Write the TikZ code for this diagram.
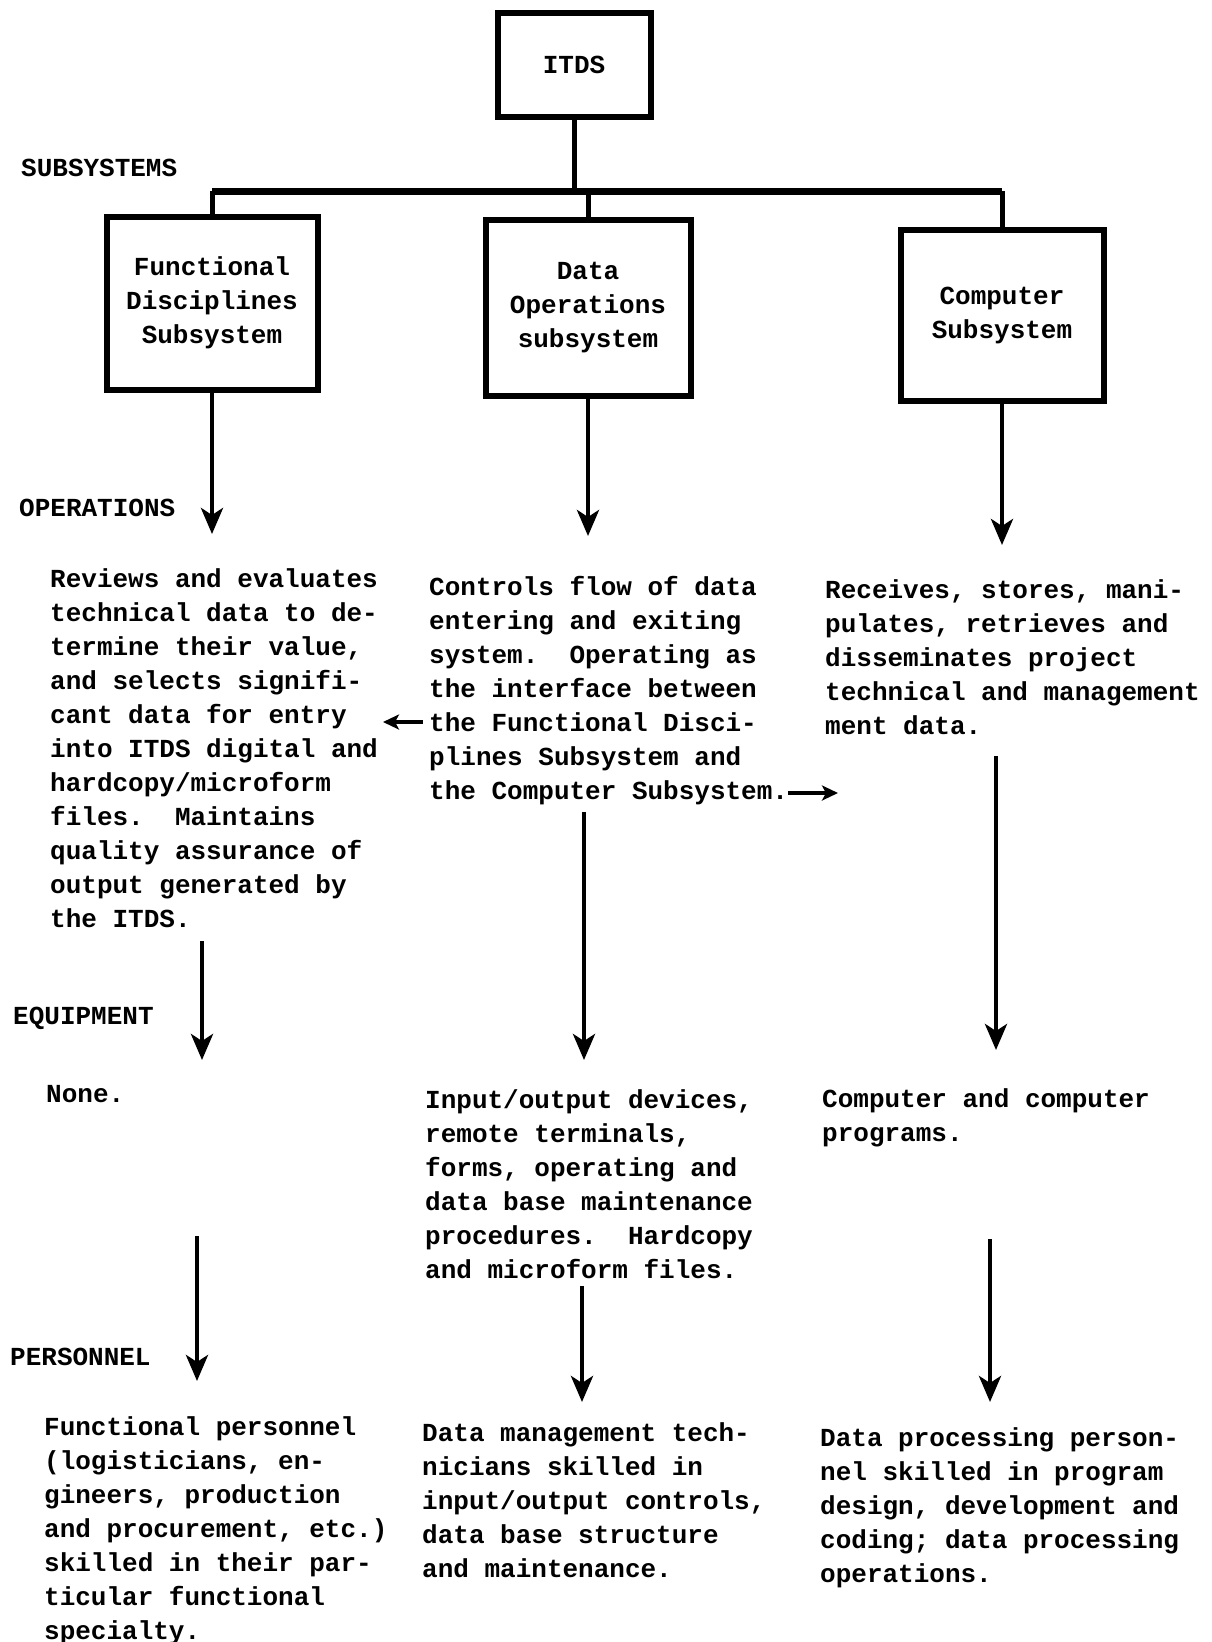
\documentclass[tikz,border=0pt]{standalone}
\usepackage{fontspec}
\setmonofont{Liberation Mono}
\usetikzlibrary{arrows.meta}

\tikzset{
  typed/.style={font=\ttfamily\bfseries\fontsize{26}{34}\selectfont},
  box/.style={draw, line width=6pt, typed, align=center, inner sep=0pt},
  txt/.style={typed, align=left, anchor=base west, inner sep=0pt},
  link/.style={line width=5pt},
  arr/.style={line width=4.5pt, -{Stealth[length=26pt,width=22pt,inset=7pt]}},
  sidearr/.style={line width=3.5pt, -{Stealth[length=16pt,width=15pt,inset=4pt]}}
}

\begin{document}
\begin{tikzpicture}[x=1pt,y=-1pt]
  \useasboundingbox (0,0) rectangle (1212,1642);

  % boxes
  \node[box, minimum width=153pt, minimum height=104pt] (itds) at (574,65) {ITDS};
  \node[box, minimum width=211pt, minimum height=173pt] (fds) at (212,303) {Functional\\Disciplines\\Subsystem};
  \node[box, minimum width=205pt, minimum height=176pt] (dos) at (588,308) {Data\\Operations\\subsystem};
  \node[box, minimum width=203pt, minimum height=171pt] (cs) at (1002,315) {Computer\\Subsystem};

  % tree
  \coordinate (bus) at (574,191);
  \draw[link] (itds.south) -- (bus);
  \draw[line width=7pt] (fds.north |- bus) -- (cs.north |- bus);
  \draw[link] (fds.north |- bus) -- (fds.north);
  \draw[link] (dos.north |- bus) -- (dos.north);
  \draw[link] (cs.north |- bus) -- (cs.north);

  % row labels
  \node[txt] (lsub) at (21,176) {SUBSYSTEMS};
  \node[txt] (lops) at (19,516) {OPERATIONS};
  \node[txt] (lequ) at (13,1024) {EQUIPMENT};
  \node[txt] (lper) at (10,1365) {PERSONNEL};

  % operations (placed by the baseline of the last line)
  \node[txt] (opsfd) at (50,927) {Reviews and evaluates\\technical data to de-\\termine their value,\\and selects signifi-\\cant data for entry\\into ITDS digital and\\hardcopy/microform\\files.~~Maintains\\quality assurance of\\output generated by\\the ITDS.};
  \node[txt] (opsdo) at (429,799) {Controls flow of data\\entering and exiting\\system.~~Operating as\\the interface between\\the Functional Disci-\\plines Subsystem and\\the Computer Subsystem.};
  \node[txt] (opscs) at (825,734) {Receives, stores, mani-\\pulates, retrieves and\\disseminates project\\technical and management\\ment data.};

  % equipment
  \node[txt] (equfd) at (46,1102) {None.};
  \node[txt] (equdo) at (425,1278) {Input/output devices,\\remote terminals,\\forms, operating and\\data base maintenance\\procedures.~~Hardcopy\\and microform files.};
  \node[txt] (equcs) at (822,1141) {Computer and computer\\programs.};

  % personnel
  \node[txt] (perfd) at (44,1639) {Functional personnel\\(logisticians, en-\\gineers, production\\and procurement, etc.)\\skilled in their par-\\ticular functional\\specialty.};
  \node[txt] (perdo) at (422,1577) {Data management tech-\\nicians skilled in\\input/output controls,\\data base structure\\and maintenance.};
  \node[txt] (percs) at (820,1582) {Data processing person-\\nel skilled in program\\design, development and\\coding; data processing\\operations.};

  % arrow ends
  \coordinate (fd1) at (212,534);
  \coordinate (do1) at (588,536);
  \coordinate (cs1) at (1002,545);
  \coordinate (fd2a) at (202,941);
  \coordinate (fd2b) at (202,1060);
  \coordinate (do2a) at (584,812);
  \coordinate (do2b) at (584,1060);
  \coordinate (cs2a) at (996,756);
  \coordinate (cs2b) at (996,1050);
  \coordinate (fd3a) at (197,1236);
  \coordinate (fd3b) at (197,1381);
  \coordinate (do3a) at (582,1286);
  \coordinate (do3b) at (582,1402);
  \coordinate (cs3a) at (990,1239);
  \coordinate (cs3b) at (990,1402);
  \coordinate (tofd) at (383,722);
  \coordinate (tocs) at (838,793);

  \draw[arr] (fds.south) -- (fd1);
  \draw[arr] (dos.south) -- (do1);
  \draw[arr] (cs.south) -- (cs1);
  \draw[arr] (fd2a) -- (fd2b);
  \draw[arr] (do2a) -- (do2b);
  \draw[arr] (cs2a) -- (cs2b);
  \draw[arr] (fd3a) -- (fd3b);
  \draw[arr] (do3a) -- (do3b);
  \draw[arr] (cs3a) -- (cs3b);
  \draw[sidearr] (opsdo.west |- tofd) ++(-6,0) -- (tofd);
  \draw[sidearr] (opsdo.east |- tocs) -- (tocs);
\end{tikzpicture}
\end{document}
